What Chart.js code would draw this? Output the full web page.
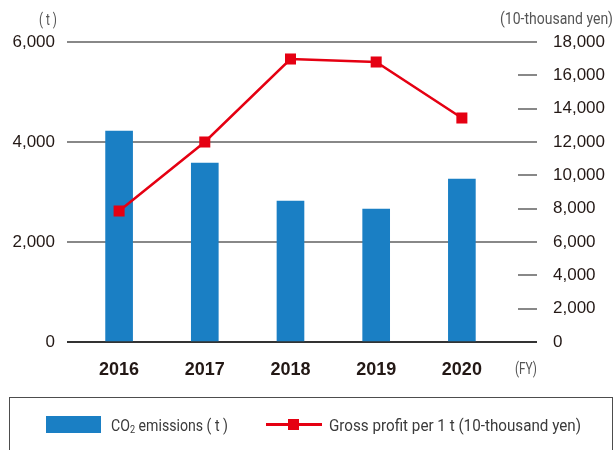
<!DOCTYPE html>
<html>
<head>
<meta charset="utf-8">
<script src="https://cdn.jsdelivr.net/npm/chart.js@4/dist/chart.umd.min.js"></script>
<style>
  html, body { margin: 0; padding: 0; background: #fff; overflow: hidden; }
  #wrap { position: relative; width: 616px; height: 450px; }
  canvas { position: absolute; left: 0; top: 0; }
  .lg { position: absolute; font-family: Roboto, "Liberation Sans", sans-serif; font-size: 17px; color: #3a3a3a; line-height: 20px; white-space: nowrap; transform-origin: 0 50%; }
  .lg sub { font-size: 11px; vertical-align: -2px; line-height: 0; }
</style>
</head>
<body>
<div id="wrap">
  <canvas id="c" width="616" height="450"></canvas>
  <div style="position:absolute;left:9px;top:397px;width:602px;height:70px;border:1px solid #4d4d4d;"></div>
  <div style="position:absolute;left:46px;top:416px;width:55px;height:17px;background:#1a7fc4;"></div>
  <div class="lg" id="lg1" data-w="117" style="left:111px;top:415px;">CO<sub>2</sub> emissions ( t )</div>
  <div style="position:absolute;left:266px;top:423px;width:56px;height:3px;background:#e50012;"></div>
  <div style="position:absolute;left:288px;top:419px;width:11px;height:11px;background:#e50012;"></div>
  <div class="lg" id="lg2" data-w="252" style="left:329px;top:415px;">Gross profit per 1 t (10-thousand yen)</div>
</div>
<script>
const categories = ['2016', '2017', '2018', '2019', '2020'];
const co2Emissions = [4220, 3580, 2820, 2660, 3260];
const grossProfitPerTon = [7860, 12000, 16980, 16800, 13440];
const leftTicks = [0, 2000, 4000, 6000];
const rightTicks = [0, 2000, 4000, 6000, 8000, 10000, 12000, 14000, 16000, 18000];

const BLUE = '#1a7fc4';
const RED = '#e50012';
const TXT = '#231815';
const NUM_FONT = '"Liberation Sans", Arial, sans-serif';
const NARROW = 'Roboto, "Liberation Sans", sans-serif';

const fmt = v => Number(v).toLocaleString('en-US');

// squeeze legend texts horizontally to mimic the condensed face
document.querySelectorAll('.lg').forEach(el => {
  const w = el.getBoundingClientRect().width;
  const target = +el.dataset.w;
  el.style.transform = 'scaleX(' + (target / w) + ')';
});

function narrowText(ctx, text, x, y, width, align) {
  const w = ctx.measureText(text).width;
  const s = width / w;
  ctx.save();
  let left = align === 'right' ? x - width : align === 'center' ? x - width / 2 : x;
  ctx.translate(left, y);
  ctx.scale(s, 1);
  ctx.textAlign = 'left';
  ctx.fillText(text, 0, 0);
  ctx.restore();
}

const unitText = {
  id: 'unitText',
  afterDraw(chart) {
    const ctx = chart.ctx;
    ctx.save();
    ctx.fillStyle = '#555';
    ctx.font = '17px ' + NARROW;
    ctx.textBaseline = 'middle';
    narrowText(ctx, '( t )', 48, 21, 18, 'center');
    narrowText(ctx, '(10-thousand yen)', 613, 20, 113, 'right');
    narrowText(ctx, '(FY)', 526, 370, 22, 'center');
    ctx.restore();
  }
};

new Chart(document.getElementById('c'), {
  type: 'bar',
  data: {
    datasets: [
      {
        type: 'line',
        label: 'Gross profit per 1 t (10-thousand yen)',
        data: grossProfitPerTon.map((v, i) => ({ x: i, y: v })),
        yAxisID: 'y1',
        xAxisID: 'x',
        borderColor: RED,
        backgroundColor: RED,
        borderWidth: 2.5,
        pointStyle: 'rect',
        pointRadius: 7.8,
        pointBorderWidth: 0,
        pointBackgroundColor: RED,
        tension: 0,
        order: 0
      },
      {
        type: 'bar',
        label: 'CO2 emissions (t)',
        data: co2Emissions.map((v, i) => ({ x: i, y: v })),
        yAxisID: 'y',
        xAxisID: 'x',
        backgroundColor: BLUE,
        borderWidth: 0,
        barThickness: 27,
        order: 1
      }
    ]
  },
  options: {
    responsive: false,
    animation: false,
    devicePixelRatio: 1,
    layout: { padding: { top: 42, bottom: 58, left: 0, right: 0 } },
    plugins: { legend: { display: false }, tooltip: { enabled: false } },
    scales: {
      x: {
        type: 'linear',
        position: 'bottom',
        min: -0.608,
        max: 4.655,
        offset: false,
        grid: { display: false, drawTicks: false },
        border: { display: false },
        afterBuildTicks: s => { s.ticks = categories.map((c, i) => ({ value: i })); },
        afterFit: s => { s.height = 50; },
        ticks: {
          autoSkip: false,
          maxRotation: 0,
          padding: 17,
          color: TXT,
          font: { family: NUM_FONT, size: 18, weight: 'bold' },
          callback: v => categories[v] !== undefined ? categories[v] : ''
        }
      },
      y: {
        position: 'left',
        min: 0,
        max: 6000,
        afterBuildTicks: s => { s.ticks = leftTicks.map(v => ({ value: v })); },
        afterFit: s => { s.width = 67; },
        grid: {
          drawTicks: false,
          color: c => c.tick && c.tick.value === 0 ? '#333' : '#888',
          lineWidth: 2
        },
        border: { display: false },
        ticks: {
          padding: 12,
          color: TXT,
          font: { family: NUM_FONT, size: 17 },
          callback: v => fmt(v)
        }
      },
      y1: {
        position: 'right',
        min: 0,
        max: 18000,
        afterBuildTicks: s => { s.ticks = rightTicks.map(v => ({ value: v })); },
        afterFit: s => { s.width = 98; },
        grid: {
          drawOnChartArea: false,
          drawTicks: true,
          tickLength: 19,
          color: c => c.tick && c.tick.value === 0 ? '#333' : '#888',
          lineWidth: 2
        },
        border: { display: false },
        ticks: {
          padding: 16,
          color: TXT,
          font: { family: NUM_FONT, size: 17 },
          callback: v => fmt(v)
        }
      }
    }
  },
  plugins: [unitText]
});
</script>
</body>
</html>
